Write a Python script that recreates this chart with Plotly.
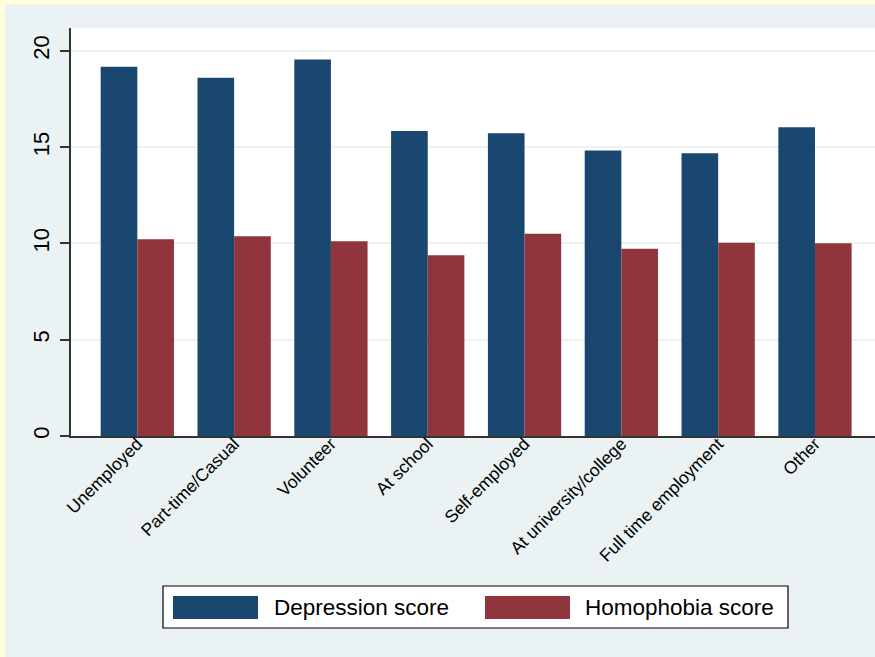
import plotly.graph_objects as go

categories = ["Unemployed", "Part-time/Casual", "Volunteer", "At school",
              "Self-employed", "At university/college", "Full time employment", "Other"]
depression = [19.18, 18.6, 19.55, 15.84, 15.73, 14.83, 14.68, 16.03]
homophobia = [10.22, 10.37, 10.11, 9.39, 10.51, 9.73, 10.04, 10.01]
series_names = ["Depression score", "Homophobia score"]
y_ticks = [0, 5, 10, 15, 20]

BLUE = "#1A476F"
RED = "#90353B"
OUTER = "#EAF2F3"
YELLOW = "#FFFFDA"
FONT = "Liberation Sans, Arial, sans-serif"

W, H = 875, 657
L, R, T, B = 71, 0, 28, 221
PW, PH = W - L - R, H - T - B


def px_x(px):
    return (px - L) / PW


def px_y(py):
    return (H - B - py) / PH


fig = go.Figure()
fig.add_trace(go.Bar(x=categories, y=depression, name=series_names[0],
                     marker=dict(color=BLUE, line=dict(width=0)), showlegend=False))
fig.add_trace(go.Bar(x=categories, y=homophobia, name=series_names[1],
                     marker=dict(color=RED, line=dict(width=0)), showlegend=False))

shapes = [
    # yellow outer border strips
    dict(type="rect", xref="paper", yref="paper", x0=px_x(0), x1=px_x(5),
         y0=px_y(H), y1=px_y(0), fillcolor=YELLOW, line=dict(width=0), layer="below"),
    dict(type="rect", xref="paper", yref="paper", x0=px_x(0), x1=px_x(W),
         y0=px_y(4), y1=px_y(0), fillcolor=YELLOW, line=dict(width=0), layer="below"),
    # legend box
    dict(type="rect", xref="paper", yref="paper", x0=px_x(163), x1=px_x(788),
         y0=px_y(628), y1=px_y(586), fillcolor="white", line=dict(color="black", width=1.2)),
    dict(type="rect", xref="paper", yref="paper", x0=px_x(173), x1=px_x(258),
         y0=px_y(619), y1=px_y(596), fillcolor=BLUE, line=dict(width=0)),
    dict(type="rect", xref="paper", yref="paper", x0=px_x(485), x1=px_x(570),
         y0=px_y(619), y1=px_y(596), fillcolor=RED, line=dict(width=0)),
]

annotations = [
    dict(xref="paper", yref="paper", x=px_x(272), y=px_y(607.5), text=series_names[0],
         showarrow=False, xanchor="left", yanchor="middle",
         font=dict(family=FONT, size=22.5, color="black")),
    dict(xref="paper", yref="paper", x=px_x(583), y=px_y(607.5), text=series_names[1],
         showarrow=False, xanchor="left", yanchor="middle",
         font=dict(family=FONT, size=22.5, color="black")),
]

fig.update_layout(
    width=W, height=H,
    margin=dict(l=L, r=R, t=T, b=B, pad=0),
    paper_bgcolor=OUTER,
    plot_bgcolor="white",
    barmode="group",
    bargap=0.243,
    bargroupgap=0,
    showlegend=False,
    shapes=shapes,
    annotations=annotations,
    font=dict(family=FONT, color="black"),
    xaxis=dict(
        range=[-0.685, 7.62],
        tickangle=-45,
        tickfont=dict(family=FONT, size=17.5, color="black"),
        ticklabelstandoff=-11,
        showline=True, linecolor="#333333", linewidth=1.5,
        ticks="", showgrid=False, zeroline=False,
        automargin=False,
    ),
    yaxis=dict(
        range=[0, 21.19],
        tickvals=y_ticks,
        ticktext=[str(v) for v in y_ticks],
        tickangle=-90,
        tickfont=dict(family=FONT, size=22, color="black"),
        ticks="outside", ticklen=9, tickwidth=1.5, tickcolor="#333333",
        ticklabelstandoff=2,
        showline=True, linecolor="#333333", linewidth=1.5,
        showgrid=True, gridcolor=OUTER, gridwidth=2,
        zeroline=False,
        automargin=False,
    ),
)

fig.write_html("out.html",
               config={"displayModeBar": False},
               post_script="document.body.style.margin='0';document.body.style.overflow='hidden';")
